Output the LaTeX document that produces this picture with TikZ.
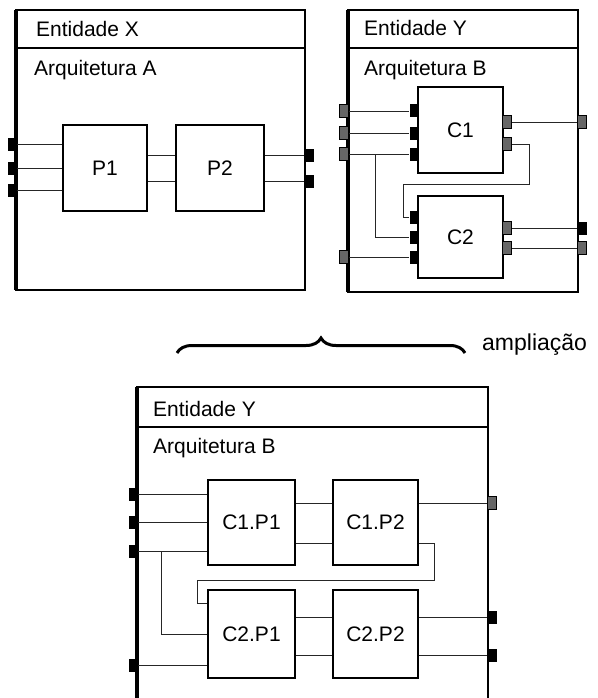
\documentclass[tikz,border=0pt]{standalone}
\usepackage{fontspec}
\setmainfont{Liberation Sans}
\usetikzlibrary{calc, decorations.pathreplacing}

\tikzset{
  frame/.style={line width=1.8pt},
  frameleft/.style={line width=3.2pt},
  comp/.style={draw, line width=1.4pt, minimum width=86pt, minimum height=86pt,
    inner sep=0pt, font=\fontsize{21}{21}\selectfont},
  port/.style={fill=black, minimum width=9pt, minimum height=13pt, inner sep=0pt},
  gport/.style={port, fill=gray!80!black, draw=black, line width=0.8pt},
  wire/.style={line width=0.8pt, black!85},
  title/.style={anchor=base west, inner sep=0pt, font=\fontsize{21}{21}\selectfont},
}

\begin{document}
\begin{tikzpicture}[x=1pt, y=-1pt]
  \useasboundingbox (0,0) rectangle (597,698);

  % 1. Entidade X com a arquitetura A
  \draw[frame] (16,10) rectangle (305,290);
  \draw[frame] (16,48) -- (305,48);
  \draw[frameleft] (16,10) -- (16,290);
  \node[title] (entX) at (36,37) {Entidade X};
  \node[title] (arqA) at (34,76) {Arquitetura A};

  \node[comp, minimum width=84pt] (P1) at (105,168) {P1};
  \node[comp, minimum width=88pt] (P2) at (220,168) {P2};

  \node[port] (xa) at (12,144) {};
  \node[port] (xb) at (12,168) {};
  \node[port] (xc) at (12,190) {};
  \node[port] (xd) at (309,155) {};
  \node[port] (xe) at (309,181) {};

  \draw[wire] (xa.east) -- (xa -| P1.west);
  \draw[wire] (xb.east) -- (xb -| P1.west);
  \draw[wire] (xc.east) -- (xc -| P1.west);
  \draw[wire] (P1.east |- xd) -- (P2.west |- xd);
  \draw[wire] (P1.east |- xe) -- (P2.west |- xe);
  \draw[wire] (P2.east |- xd) -- (xd.west);
  \draw[wire] (P2.east |- xe) -- (xe.west);

  % 2. Entidade Y com a arquitetura B
  \draw[frame] (348,10) rectangle (578,292);
  \draw[frame] (348,48) -- (578,48);
  \draw[frameleft] (348,10) -- (348,292);
  \node[title] (entY) at (364,36) {Entidade Y};
  \node[title] (arqB) at (364,76) {Arquitetura B};

  \node[comp, minimum width=85pt] (C1) at (460.5,130) {C1};
  \node[comp, minimum width=85pt, minimum height=82pt] (C2) at (460.5,237) {C2};

  \node[gport] (ya) at (344,111) {};
  \node[gport] (yb) at (344,133) {};
  \node[gport] (yc) at (344,154) {};
  \node[gport] (yd) at (344,257) {};
  \node[gport] (ye) at (582,122) {};
  \node[port]  (yf) at (582,228) {};
  \node[gport] (yg) at (582,248) {};

  \node[port]  (c1a) at (414,111) {};
  \node[port]  (c1b) at (414,133) {};
  \node[port]  (c1c) at (414,154) {};
  \node[gport] (c1d) at (507,122) {};
  \node[gport] (c1e) at (507,144) {};
  \node[port]  (c2a) at (414,217) {};
  \node[port]  (c2b) at (414,237) {};
  \node[port]  (c2c) at (414,257) {};
  \node[gport] (c2d) at (507,228) {};
  \node[gport] (c2e) at (507,248) {};

  \coordinate (ybr) at (375,154);
  \coordinate (yk1) at (529,184);
  \coordinate (yk2) at (403,184);

  \draw[wire] (ya.east) -- (c1a.west);
  \draw[wire] (yb.east) -- (c1b.west);
  \draw[wire] (yc.east) -- (c1c.west);
  \draw[wire] (ybr) |- (c2b.west);
  \draw[wire] (yd.east) -- (c2c.west);
  \draw[wire] (c1d.east) -- (ye.west);
  \draw[wire] (c1e.east) -| (yk1) -- (yk2) |- (c2a.west);
  \draw[wire] (c2d.east) -- (yf.west);
  \draw[wire] (c2e.east) -- (yg.west);

  % 3. Chaveta e texto
  \draw[line width=3pt, decorate, decoration={brace, amplitude=15pt}]
    (177,353) -- (465,353);
  \node[anchor=base west, inner sep=0pt, font=\fontsize{23}{23}\selectfont]
    (ampl) at (482,350) {ampliação};

  % 4. Entidade Y ampliada
  \draw[frame] (137,698) -- (137,387) -- (488,387) -- (488,698);
  \draw[frame] (137,427) -- (488,427);
  \draw[frameleft] (137,387) -- (137,698);
  \node[title] (entY2) at (153,416) {Entidade Y};
  \node[title] (arqB2) at (153,453) {Arquitetura B};

  \node[comp, minimum width=87pt, minimum height=85pt] (C11) at (251.5,522.5) {C1.P1};
  \node[comp, minimum width=85pt, minimum height=85pt] (C12) at (375.5,522.5) {C1.P2};
  \node[comp, minimum width=87pt, minimum height=88pt] (C21) at (251.5,634) {C2.P1};
  \node[comp, minimum width=85pt, minimum height=88pt] (C22) at (375.5,634) {C2.P2};

  \node[port]  (ba) at (133,494) {};
  \node[port]  (bb) at (133,522) {};
  \node[port]  (bc) at (133,551) {};
  \node[port]  (bd) at (133,665) {};
  \node[gport] (be) at (492,503) {};
  \node[port]  (bf) at (492,617) {};
  \node[port]  (bg) at (492,655) {};

  \coordinate (bbr) at (161,551);
  \coordinate (bk0) at (C12.east |- 0,543);
  \coordinate (bk1) at (434,580);
  \coordinate (bk2) at (197,580);

  \draw[wire] (ba.east) -- (ba -| C11.west);
  \draw[wire] (bb.east) -- (bb -| C11.west);
  \draw[wire] (bc.east) -- (bc -| C11.west);
  \draw[wire] (bbr) |- (C21.west);
  \draw[wire] (bd.east) -- (bd -| C21.west);
  \draw[wire] (C11.east |- be) -- (C12.west |- be);
  \draw[wire] (C11.east |- bk0) -- (C12.west |- bk0);
  \draw[wire] (C12.east |- be) -- (be.west);
  \draw[wire] (bk0) -| (bk1) -- (bk2) |- (C21.west |- 0,603);
  \draw[wire] (C21.east |- bf) -- (C22.west |- bf);
  \draw[wire] (C21.east |- bg) -- (C22.west |- bg);
  \draw[wire] (C22.east |- bf) -- (bf.west);
  \draw[wire] (C22.east |- bg) -- (bg.west);
\end{tikzpicture}
\end{document}
